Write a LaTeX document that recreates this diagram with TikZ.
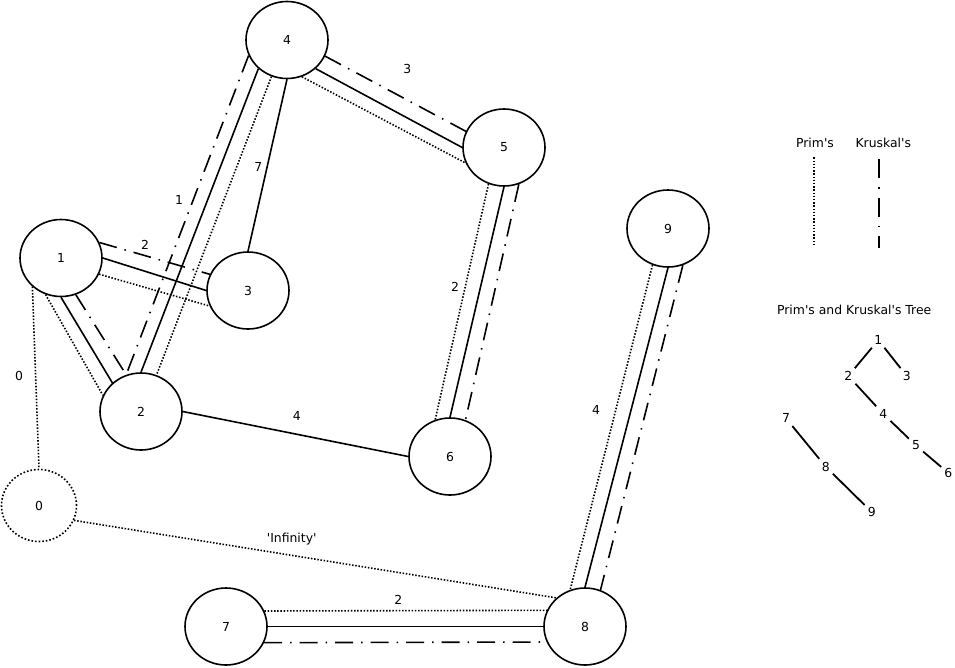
\documentclass[tikz,border=0pt]{standalone}
\usepackage{fontspec}
% plain family: no TeX ligature mapping, so ' stays a straight quote
\newfontfamily\labelfont{DejaVu Sans}
\usetikzlibrary{shapes.geometric}
\begin{document}
\begin{tikzpicture}[x=1pt,y=-1pt,
  txt/.style={font=\labelfont\fontsize{12.4}{14}\selectfont},
  vertex/.style={txt,ellipse,draw,line width=1.6pt,fill=white,
    minimum width=82pt,minimum height=77pt,inner sep=0pt},
  ghost/.style={vertex,line width=1.6pt,dash pattern=on 1.6pt off 2pt,
    minimum width=75pt,minimum height=72pt},
  solidedge/.style={line width=1.6pt},
  prim/.style={line width=1.6pt,dash pattern=on 1.5pt off 1.7pt},
  kruskal/.style={line width=1.6pt,dash pattern=on 18pt off 8pt on 1.5pt off 8pt},
  lbl/.style={txt,inner sep=0pt},
  treelbl/.style={txt,inner sep=3pt},
  treeedge/.style={line width=1.8pt}
]
\useasboundingbox (0,0) rectangle (955,667);

% graph vertices
\node[vertex] (n1) at (61,258)    {1};
\node[vertex] (n2) at (141,411.5) {2};
\node[vertex] (n3) at (248,290.5) {3};
\node[vertex] (n4) at (287,40)    {4};
\node[vertex] (n5) at (504,147.5) {5};
\node[vertex] (n6) at (450,456.5) {6};
\node[vertex] (n7) at (226,626.5) {7};
\node[vertex] (n8) at (585,626.5) {8};
\node[vertex] (n9) at (668,228.5) {9};
\node[ghost]  (n0) at (39,505.5)  {0};

% edges: solid = graph, dotted = Prim's, dash-dot = Kruskal's
\draw[solidedge] (n4.315)   -- (n5.180);
\draw[kruskal]   (n4.337.5) -- (n5.157.5);
\draw[prim]      (n4.292.5) -- (n5.202.5);

\draw[solidedge] (n4.225)   -- (n2.90);
\draw[kruskal]   (n4.202.5) -- (n2.112.5);
\draw[prim]      (n4.247.5) -- (n2.67.5);

\draw[solidedge] (n4.270) -- (n3.90);

\draw[solidedge] (n1.0)     -- (n3.180);
\draw[kruskal]   (n1.22.5)  -- (n3.157.5);
\draw[prim]      (n1.337.5) -- (n3.202.5);

\draw[solidedge] (n1.270)   -- (n2.135);
\draw[kruskal]   (n1.292.5) -- (n2.112.5);
\draw[prim]      (n1.247.5) -- (n2.157.5);

\draw[solidedge] (n2.0) -- (n6.180);

\draw[solidedge] (n5.270)   -- (n6.90);
\draw[prim]      (n5.247.5) -- (n6.112.5);
\draw[kruskal]   (n5.292.5) -- (n6.67.5);

\draw[solidedge] (n9.270)   -- (n8.90);
\draw[prim]      (n9.247.5) -- (n8.112.5);
\draw[kruskal]   (n9.292.5) -- (n8.67.5);

\draw[solidedge] (n7.0)     -- (n8.180);
\draw[prim]      (n7.22.5)  -- (n8.157.5);
\draw[kruskal]   (n7.337.5) -- (n8.202.5);

\draw[prim] (n1.225)   -- (n0.90);
\draw[prim] (n0.337.5) -- (n8.135);

% edge weights
\node[lbl] (w45) at (407.3,68.5)  {3};
\node[lbl] (w43) at (258.3,166.5) {7};
\node[lbl] (w42) at (179,199.5)   {1};
\node[lbl] (w13) at (145,245)     {2};
\node[lbl] (w56) at (455,286.7)   {2};
\node[lbl] (w98) at (596,410)     {4};
\node[lbl] (w26) at (296.7,415.5) {4};
\node[lbl] (w78) at (398.3,600)   {2};
\node[lbl] (w10) at (19,375.5)    {0};
\node[lbl] (w08) at (291.7,539)   {\textquotesingle Infinity\textquotesingle};

% legend
\node[lbl] (lp) at (815,142.7)   {Prim's};
\node[lbl] (lk) at (883.3,142.7) {Kruskal's};
\coordinate (lpa) at (814,157.3);
\coordinate (lpb) at (814,246.7);
\coordinate (lka) at (879,159.3);
\coordinate (lkb) at (879,248.3);
\draw[prim] (lpa) -- (lpb);
\draw[line width=1.6pt,dash pattern=on 19pt off 9pt on 1.2pt off 9pt] (lka) -- (lkb);

% resulting spanning tree
\node[lbl] (tt) at (854.2,310) {Prim's and Kruskal's Tree};
\node[treelbl] (t1) at (878.3,340) {1};
\node[treelbl] (t2) at (848.3,376) {2};
\node[treelbl] (t3) at (906.7,376) {3};
\node[treelbl] (t4) at (883.3,414) {4};
\node[treelbl] (t5) at (916,445.5) {5};
\node[treelbl] (t6) at (948.3,473) {6};
\node[treelbl] (t7) at (786,418.3) {7};
\node[treelbl] (t8) at (825.7,466.7) {8};
\node[treelbl] (t9) at (871.7,512) {9};
\draw[treeedge] (t1) -- (t2);
\draw[treeedge] (t1) -- (t3);
\draw[treeedge] (t2) -- (t4);
\draw[treeedge] (t4) -- (t5);
\draw[treeedge] (t5) -- (t6);
\draw[treeedge] (t7) -- (t8);
\draw[treeedge] (t8) -- (t9);
\end{tikzpicture}
\end{document}
